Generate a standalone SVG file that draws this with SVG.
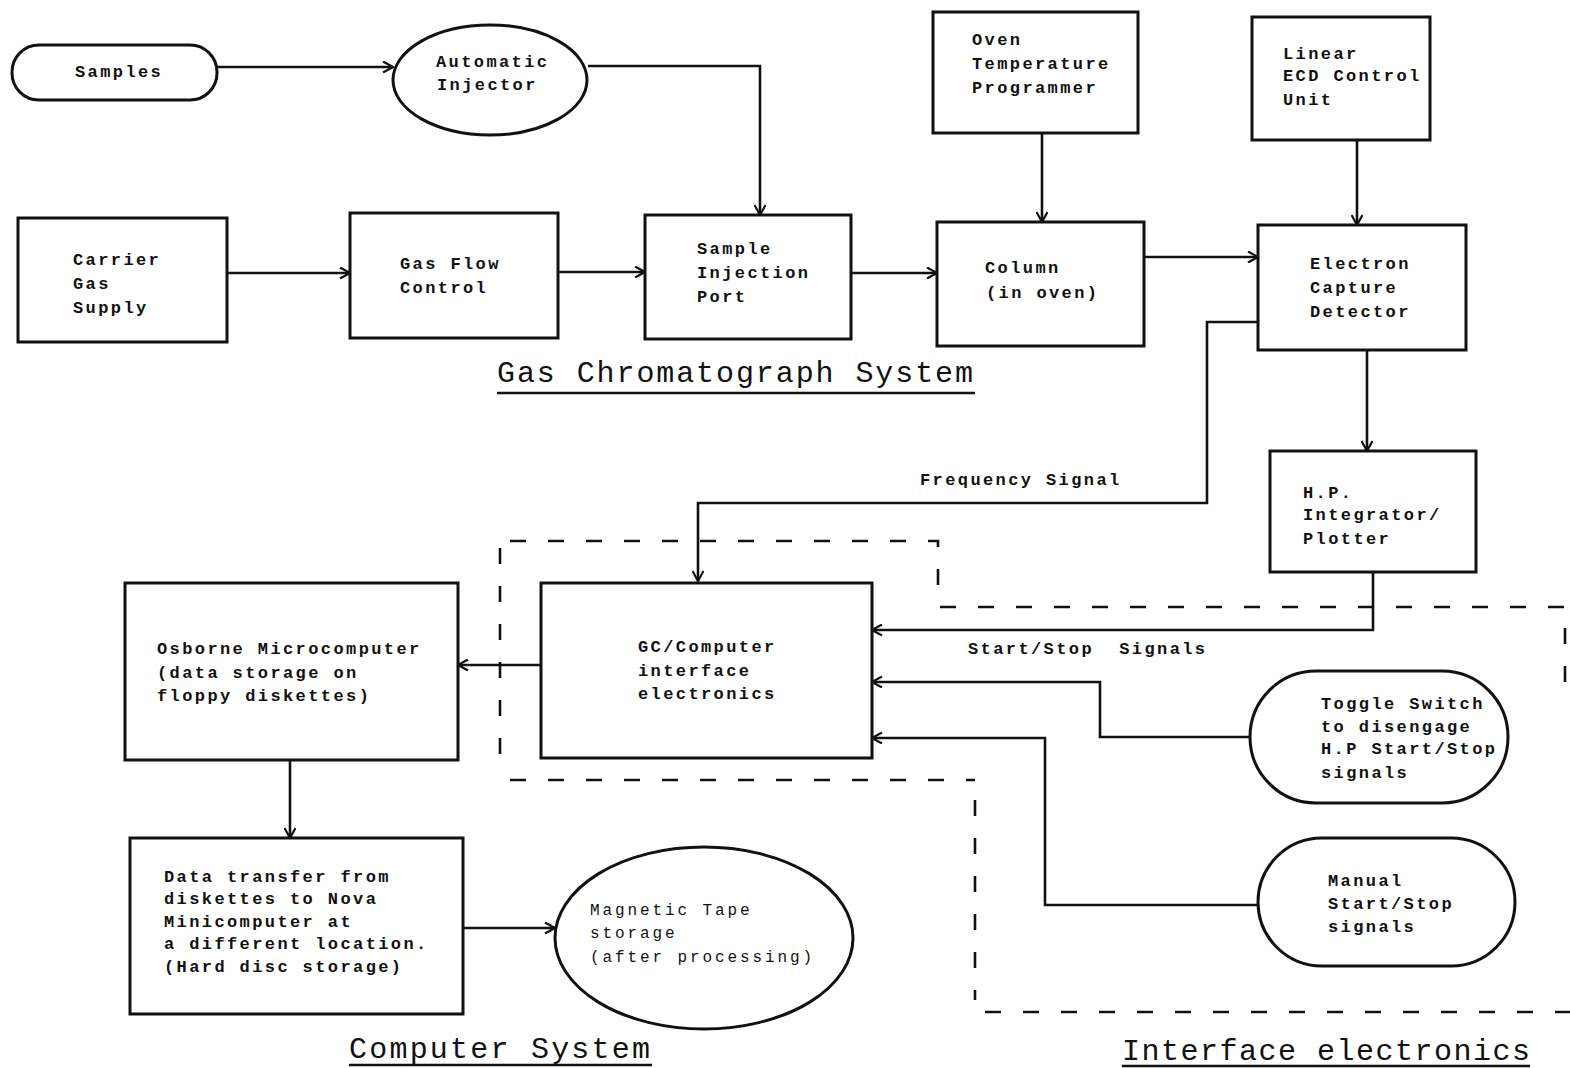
<svg xmlns="http://www.w3.org/2000/svg" width="1570" height="1068" viewBox="0 0 1570 1068">
  <style>
    .box { fill: #fff; stroke: #111; stroke-width: 3; }
    .wire { fill: none; stroke: #111; stroke-width: 2.6; }
    .dash { fill: none; stroke: #111; stroke-width: 2.6; stroke-dasharray: 16 22; }
    .lbl { font-family: "Liberation Mono", "DejaVu Sans Mono", monospace; font-weight: bold; font-size: 17px; letter-spacing: 2.4px; fill: #111; }
    .thin { font-weight: normal; font-size: 16px; letter-spacing: 2.9px; }
    .title { font-family: "Liberation Mono", "DejaVu Sans Mono", monospace; font-size: 30px; fill: #111; }
    .uline { stroke: #111; stroke-width: 2.6; }
  </style>
  <defs>
    <marker id="arr" viewBox="0 0 12 12" refX="11" refY="6" markerWidth="12" markerHeight="12" markerUnits="userSpaceOnUse" orient="auto">
      <path d="M1,0.5 L11,6 L1,11.5" fill="none" stroke="#111" stroke-width="2.2"/>
    </marker>
  </defs>
  <rect width="1570" height="1068" fill="#fff"/>

  <!-- group boundaries (dashed) -->
  <g id="boundaries">
    <path class="dash" d="M510,541 H938 V605"/>
    <path class="dash" d="M940,607 H1570"/>
    <path class="dash" d="M1565,628 V700"/>
    <path class="dash" d="M500,548 V762"/>
    <path class="dash" d="M510,780 H975"/>
    <path class="dash" d="M975,800 V1000"/>
    <path class="dash" d="M985,1012 H1570"/>
  </g>

  <!-- connectors -->
  <g id="connectors">
    <path class="wire" d="M217,67 H393" marker-end="url(#arr)"/>
    <path class="wire" d="M588,66 H760 V215" marker-end="url(#arr)"/>
    <path class="wire" d="M227,273 H350" marker-end="url(#arr)"/>
    <path class="wire" d="M558,272 H645" marker-end="url(#arr)"/>
    <path class="wire" d="M851,273 H937" marker-end="url(#arr)"/>
    <path class="wire" d="M1144,257 H1258" marker-end="url(#arr)"/>
    <path class="wire" d="M1042,133 V222" marker-end="url(#arr)"/>
    <path class="wire" d="M1357,140 V225" marker-end="url(#arr)"/>
    <path class="wire" d="M1367,350 V451" marker-end="url(#arr)"/>
    <path class="wire" d="M1258,322 H1207 V503 H698 V581" marker-end="url(#arr)"/>
    <path class="wire" d="M1373,572 V630 H872" marker-end="url(#arr)"/>
    <path class="wire" d="M1250,737 H1100 V682 H872" marker-end="url(#arr)"/>
    <path class="wire" d="M1258,905 H1045 V738 H872" marker-end="url(#arr)"/>
    <path class="wire" d="M541,665 H458" marker-end="url(#arr)"/>
    <path class="wire" d="M290,760 V838" marker-end="url(#arr)"/>
    <path class="wire" d="M463,928 H555" marker-end="url(#arr)"/>
    <text class="lbl" x="920" y="485">Frequency Signal</text>
    <text class="lbl" x="968" y="654" xml:space="preserve">Start/Stop  Signals</text>
  </g>

  <g id="samples">
    <rect class="box" x="12" y="45" width="205" height="55" rx="27"/>
    <text class="lbl" x="75" y="77">Samples</text>
  </g>
  <g id="auto-injector">
    <ellipse class="box" cx="490" cy="80" rx="97" ry="55"/>
    <text class="lbl" x="436" y="67">Automatic</text>
    <text class="lbl" x="437" y="90">Injector</text>
  </g>
  <g id="carrier-gas">
    <rect class="box" x="18" y="218" width="209" height="124"/>
    <text class="lbl" x="73" y="265">Carrier</text>
    <text class="lbl" x="73" y="289">Gas</text>
    <text class="lbl" x="73" y="313">Supply</text>
  </g>
  <g id="gas-flow">
    <rect class="box" x="350" y="213" width="208" height="125"/>
    <text class="lbl" x="400" y="269">Gas Flow</text>
    <text class="lbl" x="400" y="293">Control</text>
  </g>
  <g id="injection-port">
    <rect class="box" x="645" y="215" width="206" height="124"/>
    <text class="lbl" x="697" y="254">Sample</text>
    <text class="lbl" x="697" y="278">Injection</text>
    <text class="lbl" x="697" y="302">Port</text>
  </g>
  <g id="column">
    <rect class="box" x="937" y="222" width="207" height="124"/>
    <text class="lbl" x="985" y="273">Column</text>
    <text class="lbl" x="986" y="298">(in oven)</text>
  </g>
  <g id="oven-programmer">
    <rect class="box" x="933" y="12" width="205" height="121"/>
    <text class="lbl" x="972" y="45">Oven</text>
    <text class="lbl" x="972" y="69">Temperature</text>
    <text class="lbl" x="972" y="93">Programmer</text>
  </g>
  <g id="ecd-control">
    <rect class="box" x="1252" y="17" width="178" height="123"/>
    <text class="lbl" x="1283" y="59">Linear</text>
    <text class="lbl" x="1283" y="81">ECD Control</text>
    <text class="lbl" x="1283" y="105">Unit</text>
  </g>
  <g id="ecd">
    <rect class="box" x="1258" y="225" width="208" height="125"/>
    <text class="lbl" x="1310" y="269">Electron</text>
    <text class="lbl" x="1310" y="293">Capture</text>
    <text class="lbl" x="1310" y="317">Detector</text>
  </g>
  <g id="hp-integrator">
    <rect class="box" x="1270" y="451" width="206" height="121"/>
    <text class="lbl" x="1303" y="498">H.P.</text>
    <text class="lbl" x="1303" y="520">Integrator/</text>
    <text class="lbl" x="1303" y="544">Plotter</text>
  </g>
  <g id="gc-interface">
    <rect class="box" x="541" y="583" width="331" height="175"/>
    <text class="lbl" x="638" y="652">GC/Computer</text>
    <text class="lbl" x="638" y="676">interface</text>
    <text class="lbl" x="638" y="699">electronics</text>
  </g>
  <g id="osborne">
    <rect class="box" x="125" y="583" width="333" height="177"/>
    <text class="lbl" x="157" y="654">Osborne Microcomputer</text>
    <text class="lbl" x="157" y="678">(data storage on</text>
    <text class="lbl" x="157" y="701">floppy diskettes)</text>
  </g>
  <g id="data-transfer">
    <rect class="box" x="130" y="838" width="333" height="176"/>
    <text class="lbl" x="164" y="882">Data transfer from</text>
    <text class="lbl" x="164" y="904">diskettes to Nova</text>
    <text class="lbl" x="164" y="927">Minicomputer at</text>
    <text class="lbl" x="164" y="949">a different location.</text>
    <text class="lbl" x="164" y="972">(Hard disc storage)</text>
  </g>
  <g id="magnetic-tape">
    <ellipse class="box" cx="704" cy="938" rx="149" ry="91"/>
    <text class="lbl thin" x="590" y="915">Magnetic Tape</text>
    <text class="lbl thin" x="590" y="938">storage</text>
    <text class="lbl thin" x="590" y="962">(after processing)</text>
  </g>
  <g id="toggle-switch">
    <rect class="box" x="1250" y="671" width="258" height="132" rx="66"/>
    <text class="lbl" x="1321" y="709">Toggle Switch</text>
    <text class="lbl" x="1321" y="732">to disengage</text>
    <text class="lbl" x="1321" y="754">H.P Start/Stop</text>
    <text class="lbl" x="1321" y="778">signals</text>
  </g>
  <g id="manual-start-stop">
    <rect class="box" x="1258" y="838" width="257" height="128" rx="64"/>
    <text class="lbl" x="1328" y="886">Manual</text>
    <text class="lbl" x="1328" y="909">Start/Stop</text>
    <text class="lbl" x="1328" y="932">signals</text>
  </g>

  <!-- section titles -->
  <g id="titles">
    <text class="title" x="497" y="382" textLength="476">Gas Chromatograph System</text>
    <line class="uline" x1="497" y1="393" x2="975" y2="393"/>
    <text class="title" x="349" y="1058" textLength="301">Computer System</text>
    <line class="uline" x1="349" y1="1065" x2="652" y2="1065"/>
    <text class="title" x="1122" y="1060" textLength="408">Interface electronics</text>
    <line class="uline" x1="1122" y1="1066" x2="1530" y2="1066"/>
  </g>
</svg>
